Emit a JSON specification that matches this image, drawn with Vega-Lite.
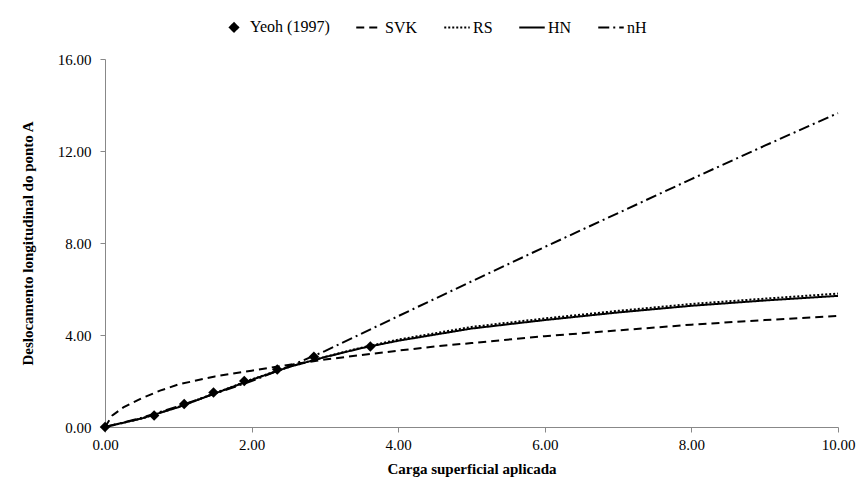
{
  "$schema": "https://vega.github.io/schema/vega-lite/v6.json",
  "width": 733,
  "height": 368,
  "autosize": {"type": "none"},
  "padding": {"left": 105, "top": 59, "right": 28, "bottom": 70},
  "background": "white",
  "config": {
    "font": "Liberation Serif",
    "view": {"stroke": null},
    "axis": {
      "labelFont": "Liberation Serif",
      "labelFontSize": 15,
      "labelColor": "#000",
      "titleFont": "Liberation Serif",
      "titleFontSize": 15,
      "titleFontWeight": "bold",
      "titleColor": "#000",
      "domainColor": "#888",
      "tickColor": "#888",
      "tickSize": 5,
      "grid": false,
      "labelFlush": false
    },
    "legend": {
      "labelFont": "Liberation Serif",
      "labelFontSize": 16,
      "labelColor": "#000"
    }
  },
  "data": {
    "values": [
      {"series": "Yeoh (1997)", "x": 0, "y": 0},
      {"series": "Yeoh (1997)", "x": 0.67, "y": 0.5},
      {"series": "Yeoh (1997)", "x": 1.08, "y": 1.0},
      {"series": "Yeoh (1997)", "x": 1.48, "y": 1.5},
      {"series": "Yeoh (1997)", "x": 1.9, "y": 2.0},
      {"series": "Yeoh (1997)", "x": 2.35, "y": 2.5},
      {"series": "Yeoh (1997)", "x": 2.85, "y": 3.05},
      {"series": "Yeoh (1997)", "x": 3.62, "y": 3.5},

      {"series": "SVK", "x": 0, "y": 0},
      {"series": "SVK", "x": 0.1, "y": 0.5},
      {"series": "SVK", "x": 0.25, "y": 0.85},
      {"series": "SVK", "x": 0.5, "y": 1.25},
      {"series": "SVK", "x": 0.75, "y": 1.58},
      {"series": "SVK", "x": 1.0, "y": 1.85},
      {"series": "SVK", "x": 1.5, "y": 2.2},
      {"series": "SVK", "x": 2.0, "y": 2.45},
      {"series": "SVK", "x": 2.5, "y": 2.7},
      {"series": "SVK", "x": 3.0, "y": 2.93},
      {"series": "SVK", "x": 3.5, "y": 3.13},
      {"series": "SVK", "x": 4.0, "y": 3.32},
      {"series": "SVK", "x": 4.5, "y": 3.5},
      {"series": "SVK", "x": 5.0, "y": 3.65},
      {"series": "SVK", "x": 6.0, "y": 3.95},
      {"series": "SVK", "x": 7.0, "y": 4.2},
      {"series": "SVK", "x": 8.0, "y": 4.45},
      {"series": "SVK", "x": 9.0, "y": 4.65},
      {"series": "SVK", "x": 10.0, "y": 4.83},

      {"series": "RS", "x": 0, "y": 0},
      {"series": "RS", "x": 0.5, "y": 0.37},
      {"series": "RS", "x": 1.0, "y": 0.87},
      {"series": "RS", "x": 1.5, "y": 1.47},
      {"series": "RS", "x": 2.0, "y": 2.07},
      {"series": "RS", "x": 2.5, "y": 2.6},
      {"series": "RS", "x": 3.0, "y": 3.05},
      {"series": "RS", "x": 3.5, "y": 3.45},
      {"series": "RS", "x": 4.0, "y": 3.8},
      {"series": "RS", "x": 5.0, "y": 4.35},
      {"series": "RS", "x": 6.0, "y": 4.72},
      {"series": "RS", "x": 7.0, "y": 5.05},
      {"series": "RS", "x": 8.0, "y": 5.35},
      {"series": "RS", "x": 9.0, "y": 5.58},
      {"series": "RS", "x": 10.0, "y": 5.8},

      {"series": "HN", "x": 0, "y": 0},
      {"series": "HN", "x": 0.5, "y": 0.37},
      {"series": "HN", "x": 1.0, "y": 0.86},
      {"series": "HN", "x": 1.5, "y": 1.46},
      {"series": "HN", "x": 2.0, "y": 2.05},
      {"series": "HN", "x": 2.5, "y": 2.6},
      {"series": "HN", "x": 3.0, "y": 3.04},
      {"series": "HN", "x": 3.5, "y": 3.43},
      {"series": "HN", "x": 4.0, "y": 3.75},
      {"series": "HN", "x": 5.0, "y": 4.28},
      {"series": "HN", "x": 6.0, "y": 4.65},
      {"series": "HN", "x": 7.0, "y": 4.98},
      {"series": "HN", "x": 8.0, "y": 5.27},
      {"series": "HN", "x": 9.0, "y": 5.5},
      {"series": "HN", "x": 10.0, "y": 5.7},

      {"series": "nH", "x": 0, "y": 0},
      {"series": "nH", "x": 0.5, "y": 0.4},
      {"series": "nH", "x": 1.0, "y": 0.9},
      {"series": "nH", "x": 1.5, "y": 1.45},
      {"series": "nH", "x": 2.0, "y": 2.0},
      {"series": "nH", "x": 2.5, "y": 2.62},
      {"series": "nH", "x": 3.0, "y": 3.3},
      {"series": "nH", "x": 4.0, "y": 4.82},
      {"series": "nH", "x": 5.0, "y": 6.33},
      {"series": "nH", "x": 6.0, "y": 7.83},
      {"series": "nH", "x": 7.0, "y": 9.3},
      {"series": "nH", "x": 8.0, "y": 10.78},
      {"series": "nH", "x": 9.0, "y": 12.23},
      {"series": "nH", "x": 10.0, "y": 13.65}
    ]
  },
  "encoding": {
    "x": {
      "field": "x",
      "type": "quantitative",
      "scale": {"domain": [0, 10], "nice": false, "zero": false},
      "axis": {"values": [0, 2, 4, 6, 8, 10], "format": ".2f", "title": "Carga superficial aplicada", "titlePadding": 9, "labelPadding": 5, "labelFontSize": 15, "labelFont": "Liberation Serif"}
    },
    "y": {
      "field": "y",
      "type": "quantitative",
      "scale": {"domain": [0, 16], "nice": false},
      "axis": {"values": [0, 4, 8, 12, 16], "format": ".2f", "title": "Deslocamento longitudinal do ponto A", "titlePadding": 22, "labelPadding": 9, "labelFontSize": 15, "labelFont": "Liberation Serif"}
    }
  },
  "layer": [
    {
      "transform": [{"filter": "datum.series !== 'Yeoh (1997)'"}],
      "mark": {"type": "line", "color": "black", "strokeWidth": 2},
      "encoding": {
        "detail": {"field": "series"},
        "strokeDash": {
          "field": "series",
          "type": "nominal",
          "scale": {
            "domain": ["Yeoh (1997)", "SVK", "RS", "HN", "nH"],
            "range": [[1, 0], [8, 5], [2, 2], [1, 0], [11, 4, 2, 4]]
          },
          "legend": {
            "title": null,
            "orient": "none",
            "direction": "horizontal",
            "legendX": 115,
            "legendY": -46,
            "columnPadding": 22,
            "symbolStrokeColor": "black",
            "symbolFillColor": "black",
            "symbolStrokeWidth": 2,
            "labelOffset": 2,
            "labelFont": "Liberation Serif",
            "labelFontSize": 16,
            "encode": {
              "symbols": {"update": {"size": {"signal": "datum.value === 'Yeoh (1997)' ? 70 : 650"}}}
            }
          }
        },
        "shape": {
          "field": "series",
          "type": "nominal",
          "scale": {
            "domain": ["Yeoh (1997)", "SVK", "RS", "HN", "nH"],
            "range": ["diamond", "stroke", "stroke", "stroke", "stroke"]
          },
          "legend": {
            "title": null,
            "orient": "none",
            "direction": "horizontal",
            "legendX": 115,
            "legendY": -46,
            "columnPadding": 22,
            "symbolStrokeColor": "black",
            "symbolFillColor": "black",
            "symbolStrokeWidth": 2,
            "labelOffset": 2,
            "labelFont": "Liberation Serif",
            "labelFontSize": 16,
            "encode": {
              "symbols": {"update": {"size": {"signal": "datum.value === 'Yeoh (1997)' ? 70 : 650"}}}
            }
          }
        }
      }
    },
    {
      "transform": [{"filter": "datum.series === 'Yeoh (1997)'"}],
      "mark": {"type": "point", "shape": "diamond", "filled": true, "color": "black", "size": 110, "opacity": 1}
    }
  ]
}
